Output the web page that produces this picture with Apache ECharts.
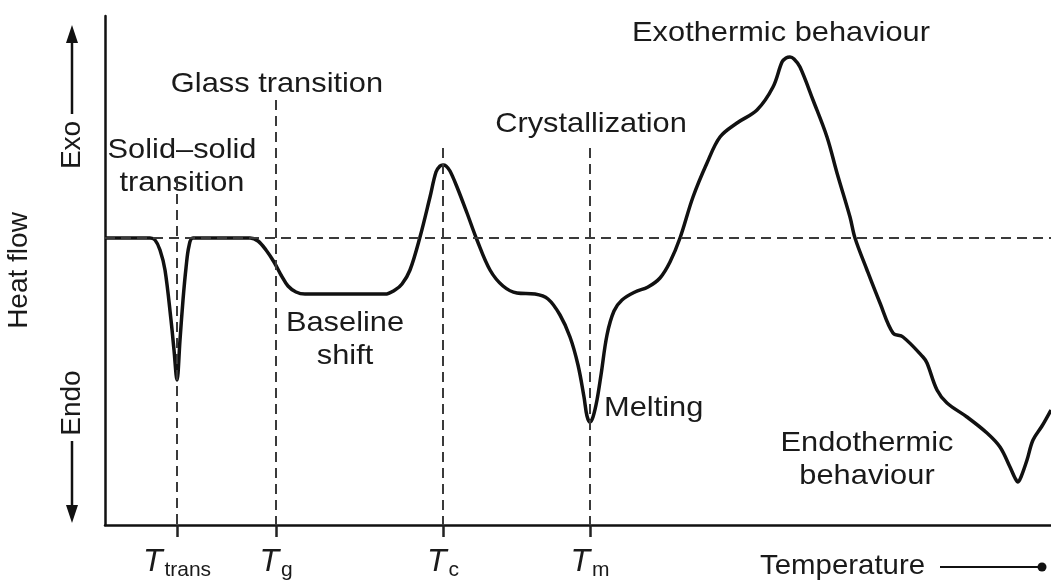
<!DOCTYPE html>
<html>
<head>
<meta charset="utf-8">
<script src="https://cdn.jsdelivr.net/npm/echarts@6/dist/echarts.min.js"></script>
<style>
  html, body { margin: 0; padding: 0; background: #fff; }
  #chart { width: 1051px; height: 585px; }
</style>
</head>
<body>
<div id="chart"></div>
<script>
// DSC thermogram (arbitrary units): temperature vs heat flow, baseline at 0
const temperature = [
  0, 4.5, 5.0, 5.5, 6.0, 6.6, 6.9, 7.2, 7.5, 7.8, 8.1, 8.4, 8.8,
  14.5, 15.3, 16.1, 16.9, 17.6, 18.3, 19.1, 20.0,
  28.0, 29.0, 29.7, 30.5, 31.5, 32.5, 33.1, 33.5, 33.8, 34.1, 34.5, 35.2, 36.2, 37.2, 38.5, 39.8, 41.2,
  43.0, 44.3, 45.5, 46.5, 47.3, 47.9, 48.2, 48.5, 48.8, 49.2, 49.6, 50.2, 50.9, 51.7, 53.0, 54.3,
  55.5, 56.5, 57.5, 58.8, 60.2, 61.5, 63.2, 65.2, 66.8, 67.7, 68.1, 68.5, 68.9, 69.5, 70.8, 72.2, 73.2, 74.5, 75.0,
  76.2, 77.5, 78.8, 79.8, 81.8, 82.2, 83.2, 84.2, 86.2, 88.2, 89.5, 90.5, 91.0, 91.3, 91.6, 92.2, 92.8, 93.7, 94.6
];
const heatFlow = [
  0, 0, -0.2, -1.2, -3.2, -8.2, -11.2, -14.2, -10.2, -6.2, -3.0, -0.8, 0,
  0, -0.3, -1.2, -2.4, -3.7, -4.8, -5.4, -5.6,
  -5.6, -5.2, -4.6, -3.2, 0.1, 4.1, 6.6, 7.2, 7.3, 7.2, 6.7, 5.1, 2.5, -0.2, -3.2, -4.8, -5.5,
  -5.6, -6.1, -7.7, -9.9, -12.7, -15.9, -17.8, -18.4, -17.9, -16.2, -13.7, -9.7, -7.3, -6.2, -5.4, -4.9,
  -4.0, -2.4, 0, 4.1, 7.5, 10.1, 11.5, 12.8, 15.1, 17.6, 18.0, 18.1, 17.9, 17.1, 13.8, 10.1, 6.5, 2.1, 0,
  -3.2, -6.5, -9.5, -9.9, -11.9, -12.5, -15.2, -16.5, -17.9, -19.5, -20.9, -22.9, -24.0, -24.4, -23.9, -22.2, -20.2, -18.8, -17.2
];

// characteristic temperatures marked on the axis
const tickValues = [7.2, 17.1, 33.8, 48.5];
const tickSubs = ['trans', 'g', 'c', 'm'];
// upper end of each dashed guide line (heat flow units)
const guideTops = [6.0, 13.8, 9.0, 9.0];

// annotation texts and their anchor points in data units
const noteTexts = ['Exothermic behaviour', 'Glass transition', 'Solid\u2013solid\ntransition',
  'Crystallization', 'Baseline\nshift', 'Melting', 'Endothermic\nbehaviour'];
const noteX = [67.6, 17.2, 7.7, 48.6, 24.0, 49.9, 76.2];
const noteY = [20.5, 15.4, 7.1, 11.4, -10.2, -17.0, -22.2];
const noteAlign = ['center', 'center', 'center', 'center', 'center', 'left', 'center'];

const X_MIN = 0, X_MAX = 94.6, Y_MIN = -28.7, Y_MAX = 22.2;
const FONT = '"Liberation Sans", Arial, Helvetica, sans-serif';
const INK = '#1a1a1a';

const points = temperature.map((t, i) => [t, heatFlow[i]]);

// horizontal zero baseline plus one vertical guide per characteristic temperature
const guideLines = [{ yAxis: 0 }].concat(tickValues.map((t, i) => [
  { coord: [t, guideTops[i]] },
  { coord: [t, Y_MIN] }
]));

const chart = echarts.init(document.getElementById('chart'), null, { renderer: 'canvas' });

chart.setOption({
  animation: false,
  backgroundColor: '#ffffff',
  grid: { left: 105, right: 0, top: 16, bottom: 60, outerBoundsMode: 'none', containLabel: false },
  xAxis: {
    type: 'value',
    min: X_MIN,
    max: X_MAX,
    splitLine: { show: false },
    axisLine: { onZero: false, lineStyle: { color: '#111', width: 2.5 } },
    axisTick: {
      show: true,
      customValues: tickValues,
      length: 12,
      lineStyle: { color: '#222', width: 2.5 }
    },
    axisLabel: {
      show: true,
      customValues: tickValues,
      margin: 21,
      formatter: (v) => {
        const i = tickValues.findIndex((t) => Math.abs(t - v) < 1e-6);
        return '{t|T}{s|' + (i >= 0 ? tickSubs[i] : '') + '}';
      },
      rich: {
        t: { fontFamily: FONT, fontSize: 32, fontStyle: 'italic', color: INK, verticalAlign: 'top', lineHeight: 32 },
        s: { fontFamily: FONT, fontSize: 21, color: INK, verticalAlign: 'top', padding: [14, 0, 0, 2], lineHeight: 32 }
      }
    }
  },
  yAxis: {
    type: 'value',
    min: Y_MIN,
    max: Y_MAX,
    splitLine: { show: false },
    axisTick: { show: false },
    axisLabel: { show: false },
    axisLine: { show: true, onZero: false, lineStyle: { color: '#111', width: 2.5 } },
    name: 'Heat flow',
    nameLocation: 'middle',
    nameRotate: 90,
    nameGap: 72,
    nameTextStyle: { fontFamily: FONT, fontSize: 28, color: INK }
  },
  series: [{
    type: 'line',
    data: points,
    smooth: 0.35,
    symbol: 'none',
    clip: true,
    lineStyle: { color: '#111', width: 3.5 },
    markLine: {
      silent: true,
      symbol: 'none',
      label: { show: false },
      lineStyle: { color: '#3a3a3a', width: 2, type: [10, 6] },
      data: guideLines
    }
  }]
});

// annotations and axis direction arrows
function textEl(text, x, y) {
  return {
    type: 'text',
    x: x, y: y,
    scaleX: 1.1,
    style: {
      text: text,
      fill: INK,
      font: '28px ' + FONT,
      align: 'center',
      verticalAlign: 'middle',
      lineHeight: 33
    }
  };
}

const graphics = noteTexts.map((txt, i) => {
  const p = chart.convertToPixel({ gridIndex: 0 }, [noteX[i], noteY[i]]);
  const el = textEl(txt, p[0], p[1]);
  el.style.align = noteAlign[i];
  return el;
});

const ax = 72;
graphics.push(
  // Exo arrow (up)
  { type: 'line', shape: { x1: ax, y1: 114, x2: ax, y2: 40 }, style: { stroke: '#111', lineWidth: 2.5 } },
  { type: 'polygon', shape: { points: [[ax, 25], [ax - 6, 43], [ax + 6, 43]] }, style: { fill: '#111' } },
  { type: 'text', x: ax, y: 145, rotation: Math.PI / 2,
    style: { text: 'Exo', fill: INK, font: '28px ' + FONT, align: 'center', verticalAlign: 'middle' } },
  // Endo arrow (down)
  { type: 'text', x: ax, y: 403, rotation: Math.PI / 2,
    style: { text: 'Endo', fill: INK, font: '28px ' + FONT, align: 'center', verticalAlign: 'middle' } },
  { type: 'line', shape: { x1: ax, y1: 441, x2: ax, y2: 508 }, style: { stroke: '#111', lineWidth: 2.5 } },
  { type: 'polygon', shape: { points: [[ax, 523], [ax - 6, 505], [ax + 6, 505]] }, style: { fill: '#111' } },
  // Temperature direction
  { type: 'text', x: 760, y: 566, scaleX: 1.05,
    style: { text: 'Temperature', fill: INK, font: '28px ' + FONT, align: 'left', verticalAlign: 'middle' } },
  { type: 'line', shape: { x1: 940, y1: 567, x2: 1040, y2: 567 }, style: { stroke: '#111', lineWidth: 2 } },
  { type: 'circle', shape: { cx: 1042, cy: 567, r: 4.5 }, style: { fill: '#111' } }
);

chart.setOption({ graphic: graphics });
</script>
</body>
</html>
